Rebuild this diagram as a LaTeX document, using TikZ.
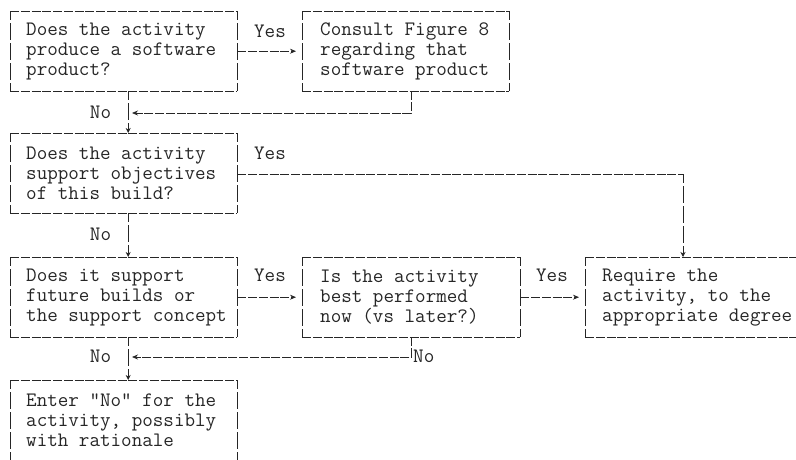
\documentclass[tikz,border=0pt]{standalone}
\usepackage{fontspec}
\usetikzlibrary{arrows.meta}
\newcommand\asciibox[1]{%
  \draw[hd] (#1.north west) -- (#1.north east) (#1.south west) -- (#1.south east);
  \draw[vd] (#1.north west) -- (#1.south west) (#1.north east) -- (#1.south east);}
\tikzset{
  hd/.style={draw=black!85, line width=0.8pt, dash pattern=on 9pt off 1.75pt},
  vd/.style={draw=black!85, line width=0.8pt, dash pattern=on 17pt off 3pt, dash phase=8pt},
  box/.style={minimum height=80pt, inner sep=0pt, anchor=north west},
  txt/.style={anchor=west, align=left, inner sep=0pt, text=black!85,
    font=\ttfamily\fontsize{20.5pt}{20pt}\selectfont},
  lbl/.style={anchor=base, inner sep=0pt, text=black!85,
    font=\ttfamily\fontsize{20.5pt}{20pt}\selectfont},
  arrR/.style={-{Stealth[length=6pt,width=5pt]}, shorten >=6pt},
  arrL/.style={-{Stealth[length=6pt,width=5pt]}, shorten >=4pt},
  arrD/.style={-{Stealth[length=5pt,width=5pt,inset=1.5pt]}},
}
\begin{document}
\begin{tikzpicture}[x=1pt,y=-1pt]
\useasboundingbox (0,0) rectangle (796,459);
% boxes
\node[box, minimum width=227pt] (b1) at (10,11) {};
\node[box, minimum width=207pt] (b2) at (302,11) {};
\node[box, minimum width=227pt] (b3) at (10,133) {};
\node[box, minimum width=227pt] (b4) at (10,257) {};
\node[box, minimum width=218pt] (b6) at (302,257) {};
\node[box, minimum width=227pt] (b5) at (585,257) {};
\node[box, minimum width=227pt] (b7) at (10,380) {};
\asciibox{b1}\asciibox{b2}\asciibox{b3}\asciibox{b4}\asciibox{b6}\asciibox{b5}\asciibox{b7}
% texts
\node[txt] (t1) at ([xshift=16pt]b1.west) {Does the activity\\produce a software\\product?};
\node[txt] (t2) at ([xshift=18pt]b2.west) {Consult Figure 8\\regarding that\\software product};
\node[txt] (t3) at ([xshift=16pt]b3.west) {Does the activity\\support objectives\\of this build?};
\node[txt] (t4) at ([xshift=16pt]b4.west) {Does it support\\future builds or\\the support concept};
\node[txt] (t6) at ([xshift=18pt]b6.west) {Is the activity\\best performed\\now (vs later?)};
\node[txt] (t5) at ([xshift=17pt]b5.west) {Require the\\activity, to the\\appropriate degree};
\node[txt] (t7) at ([xshift=16pt]b7.west) {Enter "No" for the\\activity, possibly\\with rationale};
% labels
\node[lbl] (y1) at (270,37) {Yes};
\node[lbl] (y2) at (270,159) {Yes};
\node[lbl] (y3) at (270,281) {Yes};
\node[lbl] (y4) at (552,281) {Yes};
\node[lbl] (n1) at (100.5,118) {No};
\node[lbl] (n2) at (100.5,240) {No};
\node[lbl] (n3) at (100.5,362) {No};
\node[lbl, anchor=base west] (n4) at (413,362) {No};
% helper coordinates
\coordinate (m1) at (128,113);
\coordinate (m2) at (128,357);
\coordinate (k1) at (683,174);
% connectors
\draw[hd, arrR] (b1.east) -- (b2.west);
\draw[vd, arrD] ([xshift=4.5pt]b1.south) -- ([xshift=4.5pt]b3.north);
\draw[hd, arrL] ([xshift=5.5pt]b2.south) |- (m1);
\draw[hd] (b3.east |- k1) -- (k1);
\draw[vd, arrD] (k1) -- (b5.north -| k1);
\draw[vd, arrD] ([xshift=4.5pt]b3.south) -- ([xshift=4.5pt]b4.north);
\draw[hd, arrR] (b4.east) -- (b6.west);
\draw[hd, arrR] (b6.east) -- (b5.west);
\draw[hd, arrL] (b6.south) |- (m2);
\draw[vd, arrD] ([xshift=4.5pt]b4.south) -- ([xshift=4.5pt]b7.north);
\end{tikzpicture}
\end{document}
